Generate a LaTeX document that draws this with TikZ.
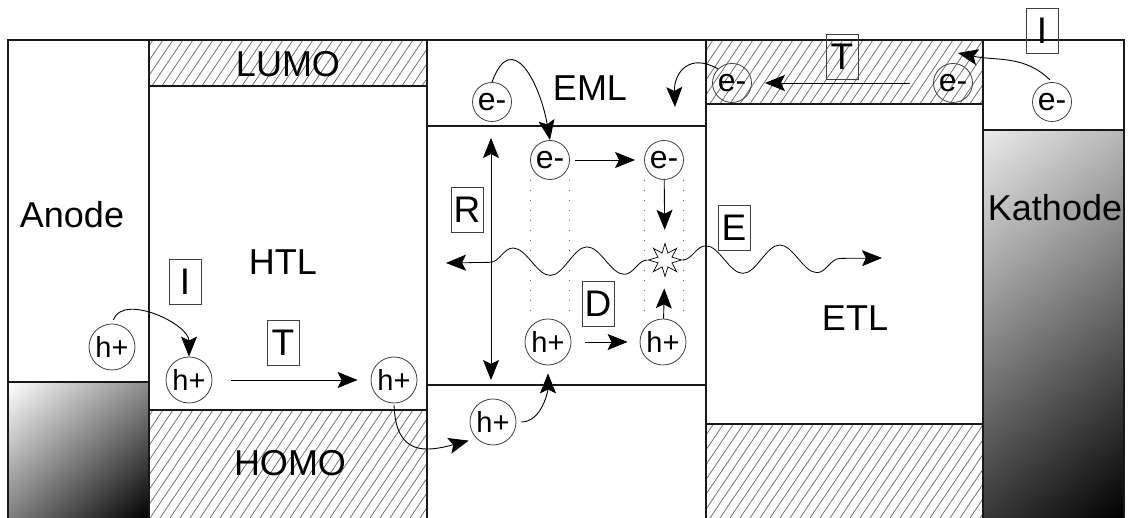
\documentclass[tikz,border=0pt]{standalone}
\usepackage{fontspec}
\setmainfont{Liberation Sans}
\usetikzlibrary{arrows.meta, shapes.geometric, shadings, decorations.pathmorphing}

\begin{document}
\begin{tikzpicture}[x=1pt, y=1pt,
    >={Stealth[length=20pt, width=16pt, inset=4pt]},   %Pfeilspitzen
    traeger/.style={circle, draw=black!75, line width=0.8pt, inner sep=0pt, minimum size=46pt, font=\fontsize{29}{30}\selectfont},
    elektron/.style={traeger, minimum size=39pt, font=\fontsize{32}{33}\selectfont},
    marke/.style={draw=black!75, line width=0.8pt, minimum width=32pt, minimum height=45pt, inner sep=0pt, font=\fontsize{37}{40}\selectfont},
    schicht/.style={font=\fontsize{36}{40}\selectfont},
    pfeil/.style={->, line width=0.9pt},
    welle/.style={->, line width=0.8pt, decorate, decoration={snake, amplitude=14pt, segment length=74pt, post length=22pt}},
    punkte/.style={black!60, line width=1pt, dash pattern=on 1pt off 9pt},
    rand/.style={black!90, line width=1.2pt}]
  \useasboundingbox (0,0) rectangle (1130,518);
  %Verlauf Anode und Kathode
  \shade[upper left=white, upper right=black!45, lower left=black!50, lower right=black] (8,0) rectangle (149,136);
  \shade[upper left=black!8, upper right=black!28, lower left=black!78, lower right=black] (983,0) rectangle (1124,388);
  %Schraffur
  \begin{scope}
    \clip (149,432) rectangle (427,478) (149,0) rectangle (427,108) (706,414) rectangle (983,478) (706,0) rectangle (983,94);
    \foreach \x in {-360,-350,...,1000} \draw[black!60, line width=0.7pt] (\x,0) -- (\x+350,518);
  \end{scope}
  %Schichtgrenzen
  \draw[rand] (8,0) -- (8,478) -- (1124,478) -- (1124,0);
  \draw[rand] (149,0) -- (149,478) (8,136) -- (149,136);
  \draw[rand] (149,432) -- (427,432) (149,108) -- (427,108);
  \draw[rand, line width=2pt] (427,0) -- (427,478) (706,0) -- (706,478) (427,392) -- (706,392);
  \draw[rand] (427,133) -- (706,133);
  \draw[rand] (706,414) -- (983,414) (706,94) -- (983,94);
  \draw[rand] (983,0) -- (983,478) (983,388) -- (1124,388);
  %Schichtnamen
  \node[schicht] (anode) at (72,303) {Anode};
  \node[schicht] (htl) at (283,256) {HTL};
  \node[schicht] (lumo) at (288,454) {LUMO};
  \node[schicht] (homo) at (290,55) {HOMO};
  \node[schicht] (eml) at (590,430) {EML};
  \node[schicht] (etl) at (855,200) {ETL};
  \node[schicht] (kathode) at (1055,310) {Kathode};
  %Ladungstraeger
  \node[traeger] (hAnode) at (112,171) {h+};
  \node[traeger] (hHtlA) at (189,138) {h+};
  \node[traeger] (hHtlB) at (394,138) {h+};
  \node[traeger] (hEmlIn) at (493,96) {h+};
  \node[traeger] (hEmlA) at (548,176) {h+};
  \node[traeger] (hEmlB) at (663,176) {h+};
  \node[elektron] (eEmlTop) at (492,416) {e-};
  \node[elektron] (eEmlA) at (550,358) {e-};
  \node[elektron] (eEmlB) at (664,358) {e-};
  \node[elektron] (eEtlA) at (732,435) {e-};
  \node[elektron] (eEtlB) at (953,435) {e-};
  \node[elektron] (eCath) at (1052,416) {e-};
  \node[star, star points=8, star point ratio=2.2, draw, line width=0.7pt, minimum size=33pt, inner sep=0pt] (blitz) at (665,258) {};
  %Prozesse
  \node[marke] (iLinks) at (185,236) {I};
  \node[marke] (tLinks) at (283,175) {T};
  \node[marke] (rMarke) at (467,308) {R};
  \node[marke] (dMarke) at (598,214) {D};
  \node[marke] (eMarke) at (734,290) {E};
  \node[marke] (tRechts) at (842,461) {T};
  \node[marke] (iRechts) at (1042,487) {I};
  %freie Enden
  \coordinate (rOben) at (491,380);
  \coordinate (rUnten) at (491,138);
  \coordinate (wLinks) at (446,255);
  \coordinate (wRechts) at (882,260);
  \coordinate (eFall) at (675,411);
  \coordinate (eRein) at (958,465);
  %Punktlinien
  \draw[punkte] (eEmlA.west |- eEmlA.south) -- (eEmlA.west |- hEmlA.north);
  \draw[punkte] (eEmlA.east |- eEmlA.south) -- (eEmlA.east |- hEmlA.north);
  \draw[punkte] (eEmlB.west |- eEmlB.south) -- (eEmlB.west |- hEmlB.north);
  \draw[punkte] (eEmlB.east |- eEmlB.south) -- (eEmlB.east |- hEmlB.north);
  %Pfeile Loecher
  \draw[pfeil, shorten <=4pt] (hAnode.north) to[out=70, in=90] (hHtlA.north);
  \draw[pfeil, shorten <=19pt, shorten >=13pt] (hHtlA) -- (hHtlB);
  \draw[pfeil, shorten <=2pt, shorten >=8pt] (hHtlB.south) to[out=-88, in=195, looseness=1.5] (hEmlIn.south west);
  \draw[pfeil, shorten <=5pt, shorten >=8pt] (hEmlIn.east) to[out=0, in=-90] (hEmlA.south);
  \draw[pfeil, shorten <=14pt, shorten >=12pt] (hEmlA) -- (hEmlB);
  \draw[pfeil, shorten >=12pt] (hEmlB) -- (blitz);
  %Pfeile Elektronen
  \draw[pfeil, shorten <=3pt] (eCath.north) to[out=135, in=-12] (eRein);
  \draw[pfeil, shorten <=23pt, shorten >=13pt] (eEtlB) -- (eEtlA);
  \draw[pfeil] (eEtlA.north west) to[out=150, in=92, looseness=1.5] (eFall);
  \draw[pfeil] (eEmlTop.north) to[out=70, in=100, looseness=1.8] (eEmlA.north);
  \draw[pfeil, shorten <=5pt, shorten >=9pt] (eEmlA) -- (eEmlB);
  \draw[pfeil, shorten >=13pt] (eEmlB) -- (blitz);
  %Rekombination und Emission
  \draw[<->, line width=0.9pt] (rUnten) -- (rOben);
  \draw[welle] (blitz.west) -- (wLinks);
  \draw[welle] (blitz.east) -- (wRechts);
\end{tikzpicture}
\end{document}
